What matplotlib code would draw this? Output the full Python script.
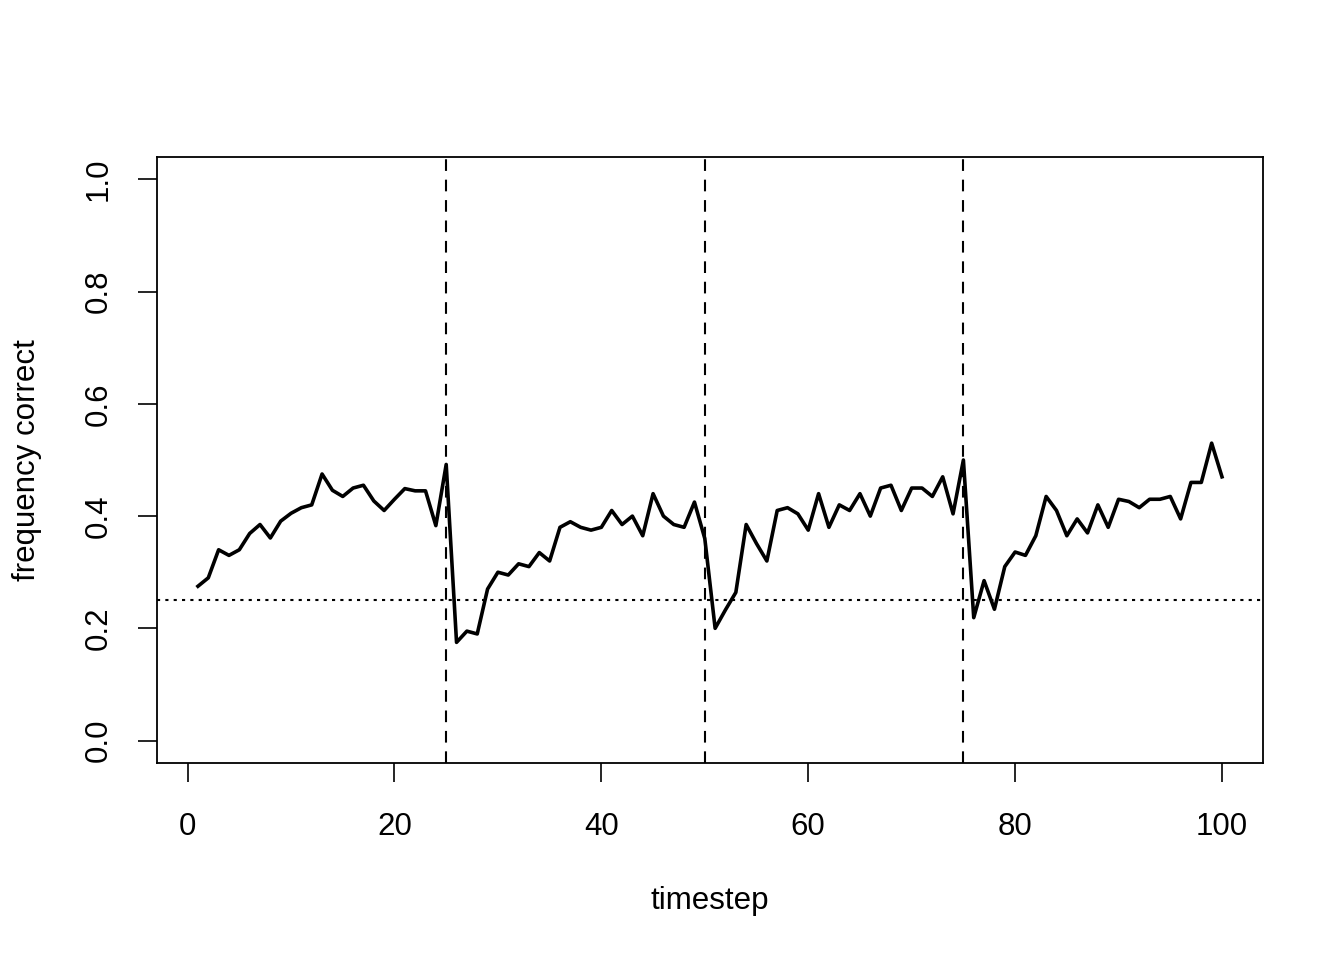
import numpy as np
import matplotlib
matplotlib.use("Agg")
import matplotlib.pyplot as plt

plt.rcParams['font.family'] = ['Liberation Sans', 'DejaVu Sans']

timestep = np.arange(1, 101)
freq_correct = [
    0.275, 0.29, 0.34, 0.33, 0.34, 0.369, 0.385, 0.361, 0.391, 0.405,
    0.415, 0.42, 0.475, 0.446, 0.435, 0.45, 0.455, 0.427, 0.41, 0.43,
    0.449, 0.445, 0.445, 0.383, 0.492, 0.175, 0.195, 0.19, 0.27, 0.30,
    0.295, 0.315, 0.31, 0.335, 0.32, 0.38, 0.39, 0.38, 0.375, 0.38,
    0.41, 0.385, 0.40, 0.365, 0.44, 0.40, 0.385, 0.38, 0.425, 0.36,
    0.20, 0.233, 0.264, 0.385, 0.351, 0.32, 0.41, 0.415, 0.404, 0.375,
    0.44, 0.38, 0.42, 0.41, 0.44, 0.40, 0.45, 0.455, 0.41, 0.45,
    0.45, 0.435, 0.47, 0.404, 0.50, 0.219, 0.285, 0.234, 0.31, 0.336,
    0.33, 0.365, 0.435, 0.41, 0.365, 0.395, 0.37, 0.42, 0.38, 0.43,
    0.426, 0.415, 0.43, 0.43, 0.435, 0.395, 0.46, 0.46, 0.53, 0.47,
]
switch_points = [25, 50, 75]
chance = 0.25

fig = plt.figure(figsize=(13.44, 9.6), dpi=100)
ax = fig.add_axes([0.1168, 0.2052, 0.8229, 0.6313])

ax.plot(timestep, freq_correct, color='black', linewidth=2.6)
for s in switch_points:
    ax.axvline(s, color='black', linewidth=1.5, dashes=(5.6, 4.2))
ax.axhline(chance, color='black', linewidth=1.5, dashes=(1.5, 2.5))

ax.set_xlim(-2.96, 103.96)
ax.set_ylim(-0.04, 1.04)
ax.set_xticks([0, 20, 40, 60, 80, 100])
ax.set_yticks([0.0, 0.2, 0.4, 0.6, 0.8, 1.0])
ax.set_yticklabels(['0.0', '0.2', '0.4', '0.6', '0.8', '1.0'], rotation=90, va='center')
ax.tick_params(axis='both', direction='out', length=14, width=1.2, labelsize=22.5)
ax.tick_params(axis='x', pad=21)
ax.tick_params(axis='y', pad=17)
for sp in ax.spines.values():
    sp.set_linewidth(1.3)

ax.set_xlabel('timestep', fontsize=22.5)
ax.xaxis.set_label_coords(0.5, -0.2277)
ax.xaxis.label.set_va('center')
ax.set_ylabel('frequency correct', fontsize=22.5)
ax.yaxis.set_label_coords(-0.1175, 0.5)
ax.yaxis.label.set_va('center')

fig.savefig('out.png', dpi=100)
